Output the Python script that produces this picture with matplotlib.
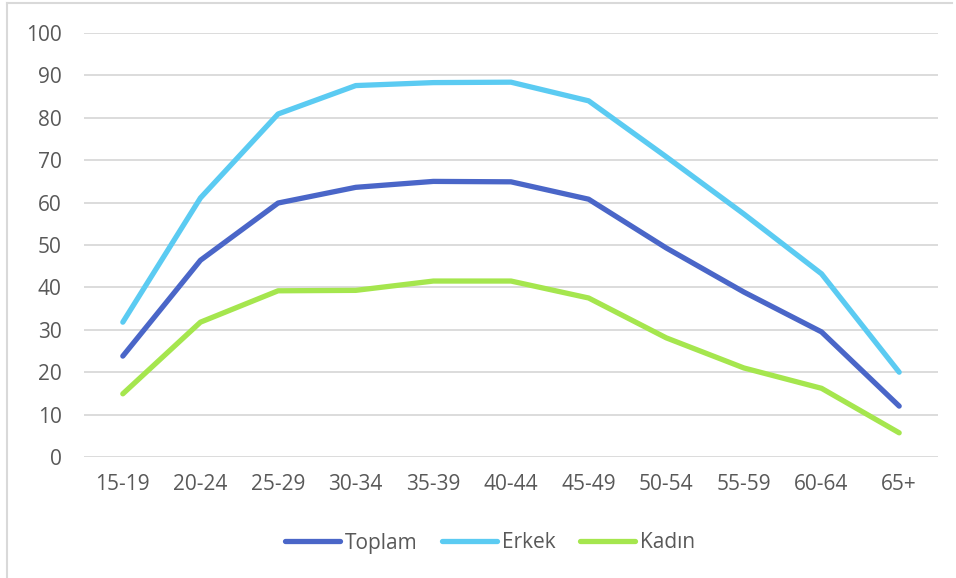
import matplotlib
matplotlib.use("Agg")
import matplotlib.pyplot as plt
from matplotlib.lines import Line2D

categories = ["15-19", "20-24", "25-29", "30-34", "35-39", "40-44", "45-49", "50-54", "55-59", "60-64", "65+"]
toplam = [23.8, 46.4, 59.9, 63.6, 65.0, 64.9, 60.8, 49.3, 38.9, 29.5, 12.0]
erkek = [31.8, 61.1, 80.9, 87.6, 88.3, 88.4, 84.0, 70.8, 57.3, 43.2, 20.0]
kadin = [14.9, 31.8, 39.2, 39.3, 41.5, 41.5, 37.5, 28.1, 21.0, 16.2, 5.7]
yticks = [0, 10, 20, 30, 40, 50, 60, 70, 80, 90, 100]

plt.rcParams['font.family'] = ['Open Sans', 'DejaVu Sans']
W, H = 956, 578
fig = plt.figure(figsize=(W/100, H/100), dpi=100)
ax = fig.add_axes([84/W, 1-457/H, (938-84)/W, (457-33)/H])

x = list(range(len(categories)))
lw = 3.8
ax.plot(x, toplam, color="#4A66C8", lw=lw, solid_capstyle="round", solid_joinstyle="round", label="Toplam", zorder=3)
ax.plot(x, erkek, color="#5BCBF2", lw=lw, solid_capstyle="round", solid_joinstyle="round", label="Erkek", zorder=3)
ax.plot(x, kadin, color="#A5E64E", lw=lw, solid_capstyle="round", solid_joinstyle="round", label="Kadın", zorder=3)

ax.set_xlim(-0.5, 10.5)
ax.set_ylim(0, 100)
ax.set_yticks(yticks)
ax.set_xticks(x)
ax.set_xticklabels(categories)
ax.grid(axis='y', color="#D9D9D9", lw=1.3)
ax.set_axisbelow(True)
for s in ax.spines.values():
    s.set_visible(False)
ax.tick_params(length=0, colors="#595959", labelsize=15)
ax.tick_params(axis='y', pad=16)
ax.tick_params(axis='x', pad=12)

leg = fig.legend(loc="center", bbox_to_anchor=(490/W, 1-543/H), ncol=3, frameon=False,
                 fontsize=15, handlelength=2.65, columnspacing=1.2, handletextpad=0.2)
for t in leg.get_texts():
    t.set_color("#595959")
for h in leg.get_lines():
    h.set_linewidth(lw)
    h.set_solid_capstyle("round")

# chart border (left and top visible)
fig.add_artist(Line2D([7/W, 7/W], [0, 1-3/H], color="#D9D9D9", lw=1.5))
fig.add_artist(Line2D([7/W, 952/W], [1-3/H, 1-3/H], color="#D9D9D9", lw=1.5))

fig.savefig("out.png", dpi=100)
